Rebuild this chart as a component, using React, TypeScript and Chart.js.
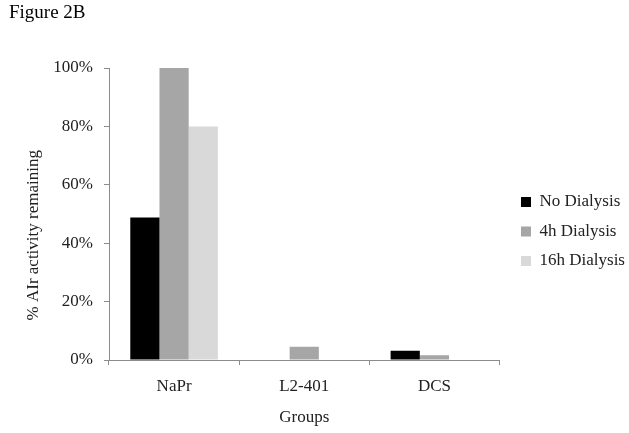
import React, { useEffect, useRef } from "react";
import { Chart, registerables } from "chart.js";

Chart.register(...registerables);

const categories = ["NaPr", "L2-401", "DCS"];
const seriesNames = ["No Dialysis", "4h Dialysis", "16h Dialysis"];
const noDialysis = [48.8, 0, 3.2];
const dialysis4h = [100, 4.5, 1.6];
const dialysis16h = [80, 0, 0];
const seriesColors = ["#000000", "#a6a6a6", "#d9d9d9"];
const yTicks = [0, 20, 40, 60, 80, 100];

const FONT = "'Liberation Serif', 'Times New Roman', serif";
const AXIS = "#8c8c8c";
const TEXT = "#222222";
const FS = 17;
const LEG_PAD = 12.5;
const BOX = 10;

const legendPlacer = {
  id: "legendPlacer",
  afterLayout(chart: any) {
    const l = chart.legend;
    if (!l) return;
    const w = l.width;
    l.left = 521 - LEG_PAD;
    l.right = l.left + w;
    l.top = 193.5 - LEG_PAD;
    l.bottom = 433;
    l.height = l.bottom - l.top;
  },
};

function legendWidth(): number {
  const c = document.createElement("canvas").getContext("2d");
  if (!c) return 120;
  c.font = `${FS}px ${FONT}`;
  let m = 0;
  for (const s of seriesNames) m = Math.max(m, c.measureText(s).width);
  return LEG_PAD * 2 + BOX + FS / 2 + m;
}

export default function App() {
  const ref = useRef<HTMLCanvasElement | null>(null);
  useEffect(() => {
    if (!ref.current) return;
    const rightPad = Math.max(0, 629 - 497 - legendWidth());
    const chart = new Chart(ref.current, {
      type: "bar",
      data: {
        labels: categories,
        datasets: [noDialysis, dialysis4h, dialysis16h].map((d, i) => ({
          label: seriesNames[i],
          data: d,
          backgroundColor: seriesColors[i],
          borderWidth: 0,
          barPercentage: 1,
          categoryPercentage: 0.673,
        })),
      },
      plugins: [legendPlacer],
      options: {
        animation: false,
        responsive: false,
        maintainAspectRatio: false,
        layout: { padding: { left: 9, right: rightPad, top: 0, bottom: 0 } },
        plugins: {
          title: {
            display: true,
            text: "Figure 2B",
            align: "start",
            color: "#000",
            font: { family: FONT, size: 19, weight: "normal" },
            padding: { top: 2, bottom: 43.2 },
          },
          legend: {
            position: "right",
            align: "start",
            labels: {
              boxWidth: BOX,
              boxHeight: BOX,
              padding: LEG_PAD,
              color: TEXT,
              font: { family: FONT, size: FS },
            },
          },
          tooltip: { enabled: false },
        },
        scales: {
          x: {
            grid: {
              display: true,
              drawOnChartArea: false,
              drawTicks: true,
              tickLength: 5,
              color: AXIS,
              offset: true,
            },
            border: { display: true, color: AXIS, width: 1 },
            ticks: {
              color: TEXT,
              padding: 11,
              font: { family: FONT, size: FS },
            },
            title: {
              display: true,
              text: "Groups",
              color: TEXT,
              font: { family: FONT, size: FS },
              padding: { top: 0, bottom: 5 },
            },
            afterFit(scale: any) {
              scale.height = 73;
            },
          },
          y: {
            min: 0,
            max: 100,
            afterBuildTicks(scale: any) {
              scale.ticks = yTicks.map((v) => ({ value: v }));
            },
            grid: {
              display: true,
              drawOnChartArea: false,
              drawTicks: true,
              tickLength: 5,
              color: AXIS,
            },
            border: { display: true, color: AXIS, width: 1 },
            ticks: {
              color: TEXT,
              padding: 11,
              font: { family: FONT, size: FS },
              callback: (v: any) => v + "%",
            },
            title: {
              display: true,
              text: "% AIr activity remaining          ",
              color: TEXT,
              font: { family: FONT, size: FS },
              padding: { top: 14.8, bottom: 0 },
            },
            afterFit(scale: any) {
              scale.width = 100;
            },
          },
        },
      },
    });
    return () => chart.destroy();
  }, []);
  return (
    <div style={{ position: "fixed", left: 0, top: 0, width: 629, height: 433, background: "#fff" }}>
      <canvas ref={ref} width={629} height={433} style={{ display: "block" }} />
    </div>
  );
}
